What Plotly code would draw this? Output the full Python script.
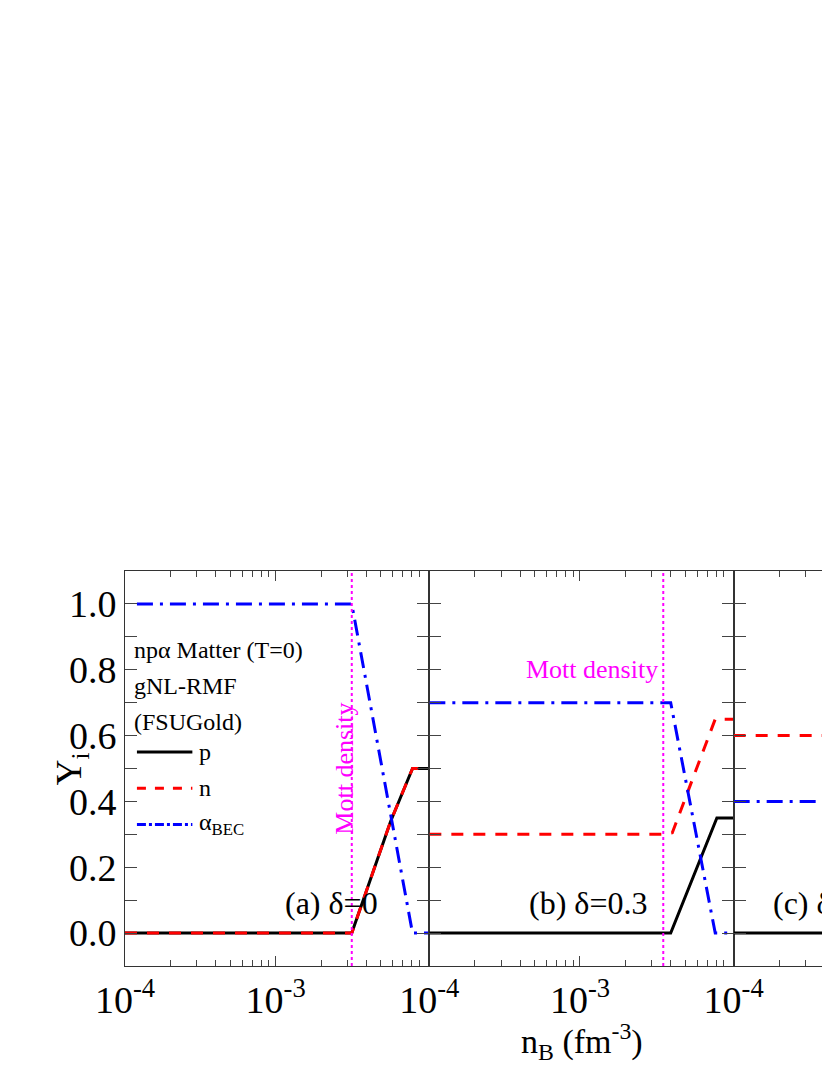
import math
import plotly.graph_objects as go

# panel (a) delta=0
a_x_alpha = [1.2e-4, 3.2e-3, 8.1e-3, 1.05e-2]
a_alpha = [1.0, 1.0, 0.0, 0.0]
a_x_pn = [1.0e-4, 3.2e-3, 5.8e-3, 8.1e-3, 1.05e-2]
a_p = [0.0, 0.0, 0.34, 0.5, 0.5]
a_n = [0.0, 0.0, 0.34, 0.5, 0.5]
# panel (b) delta=0.3
b_x_alpha = [1.0e-4, 4.0e-3, 7.9e-3, 1.05e-2]
b_alpha = [0.7, 0.7, 0.0, 0.0]
b_x_n = [1.0e-4, 3.6e-3, 4.1e-3, 7.9e-3, 1.05e-2]
b_n = [0.3, 0.3, 0.305, 0.65, 0.65]
b_x_p = [1.0e-4, 4.0e-3, 8.1e-3, 1.05e-2]
b_p = [0.0, 0.0, 0.35, 0.35]
# panel (c) delta=0.6 (mostly outside view)
c_x_alpha = [1.0e-4, 4.6e-3, 7.8e-3, 1.05e-2]
c_alpha = [0.4, 0.4, 0.0, 0.0]
c_x_n = [1.0e-4, 4.4e-3, 7.9e-3, 1.05e-2]
c_n = [0.6, 0.6, 0.8, 0.8]
c_x_p = [1.0e-4, 4.6e-3, 8.1e-3, 1.05e-2]
c_p = [0.0, 0.0, 0.2, 0.2]
mott = [3.2e-3, 3.57e-3, 4.4e-3]
panel_labels = ["(a) δ=0", "(b) δ=0.3", "(c) δ=0.6"]

lg = math.log10
W, H = 1100, 1075
L, R = 117, 70
fig = go.Figure()
doms = [[0, 1/3], [1/3, 2/3], [2/3, 1]]
BLK, RED, BLU, MAG = "black", "red", "blue", "magenta"
panels = [
    (a_x_pn, a_p, a_x_pn, a_n, a_x_alpha, a_alpha),
    (b_x_p, b_p, b_x_n, b_n, b_x_alpha, b_alpha),
    (c_x_p, c_p, c_x_n, c_n, c_x_alpha, c_alpha),
]
font = "Liberation Serif"
for i, (xp, yp, xn, yn, xa, ya) in enumerate(panels):
    xa_name = "x" if i == 0 else f"x{i+1}"
    fig.add_trace(go.Scatter(x=xp, y=yp, mode="lines", line=dict(color=BLK, width=3), xaxis=xa_name, yaxis="y", showlegend=False))
    fig.add_trace(go.Scatter(x=xn, y=yn, mode="lines", line=dict(color=RED, width=3, dash="12px,10px"), xaxis=xa_name, yaxis="y", showlegend=False))
    fig.add_trace(go.Scatter(x=xa, y=ya, mode="lines", line=dict(color=BLU, width=3, dash="16px,7px,3px,7px"), xaxis=xa_name, yaxis="y", showlegend=False))
    fig.add_trace(go.Scatter(x=[mott[i], mott[i]], y=[-0.1, 1.1], mode="lines", line=dict(color=MAG, width=2, dash="dot"), xaxis=xa_name, yaxis="y", showlegend=False))
    ax = dict(type="log", range=[-4, -1.98], domain=doms[i], ticks="inside", ticklen=10, tickwidth=1.2,
              mirror="allticks", showline=True, linecolor="#333", linewidth=1, showgrid=False,
              tickvals=[1e-4, 1e-3], ticktext=["10<sup>-4</sup>", "10<sup>-3</sup>"],
              tickfont=dict(family=font, size=38, color="black"),
              minor=dict(ticks="inside", ticklen=6, tickwidth=1, tickvals=[k*10**e for e in (-4, -3) for k in range(2, 10)]))
    if i > 0:
        ax["anchor"] = "y"
    fig.layout[("xaxis" if i == 0 else f"xaxis{i+1}")] = ax
    fig.add_annotation(text=panel_labels[i], x=doms[i][0] + 0.52/3, xref="paper", y=0.09, yref="y",
                       showarrow=False, font=dict(family=font, size=32, color="black"))

fig.update_layout(
    width=W, height=H, plot_bgcolor="white", paper_bgcolor="white",
    margin=dict(l=L, r=R, t=563, b=H - 958),
    yaxis=dict(range=[-0.1, 1.1], dtick=0.2, tick0=0, tickformat=".1f", ticks="inside", ticklen=12, tickwidth=1.2,
               mirror="allticks", showline=True, linecolor="#333", linewidth=1, showgrid=False, zeroline=False,
               tickfont=dict(family=font, size=38, color="black"),
               minor=dict(ticks="inside", ticklen=12, tickwidth=1.2, dtick=0.1)),
    showlegend=False,
)
fig.add_annotation(text="Y<sub>i</sub>", x=-0.085, xref="paper", y=0.5, yref="y", textangle=-90, showarrow=False,
                   font=dict(family=font, size=36, color="black"))
fig.add_annotation(text="n<sub>B</sub> (fm<sup>-3</sup>)", x=0.5, xref="paper", y=-(1033 - 958) / (958 - 563),
                   yref="paper", yanchor="middle", showarrow=False, font=dict(family=font, size=34, color="black"))
# info text
for t, yv in [("npα Matter (T=0)", 0.86), ("gNL-RMF", 0.75), ("(FSUGold)", 0.64)]:
    fig.add_annotation(text=t, x=lg(1.12e-4), xref="x", y=yv, yref="y", xanchor="left", showarrow=False,
                       font=dict(family=font, size=24, color="black"))
# legend (drawn)
leg = [("p", BLK, "solid"), ("n", RED, "dash"), ("α<sub>BEC</sub>", BLU, "dashdot")]
for k, (t, c, d) in enumerate(leg):
    yv = 0.55 - k * 0.11
    fig.add_shape(type="line", xref="x", yref="y", x0=1.2e-4, x1=2.8e-4, y0=yv, y1=yv,
                  line=dict(color=c, width=3, dash=d))
    fig.add_annotation(text=t, x=lg(3.0e-4), xref="x", y=yv, yref="y", xanchor="left", showarrow=False,
                       font=dict(family=font, size=24, color="black"))
fig.add_annotation(text="Mott density", x=lg(2.85e-3), xref="x", y=0.5, yref="y", textangle=-90, showarrow=False,
                   font=dict(family=font, size=26, color=MAG))
fig.add_annotation(text="Mott density", x=lg(3.4e-3), xref="x2", y=0.8, yref="y", xanchor="right", showarrow=False,
                   font=dict(family=font, size=26, color=MAG))
fig.add_annotation(text="Mott density", x=lg(4.2e-3), xref="x3", y=0.8, yref="y", xanchor="right", showarrow=False,
                   font=dict(family=font, size=26, color=MAG))
fig.write_html("out.html")
